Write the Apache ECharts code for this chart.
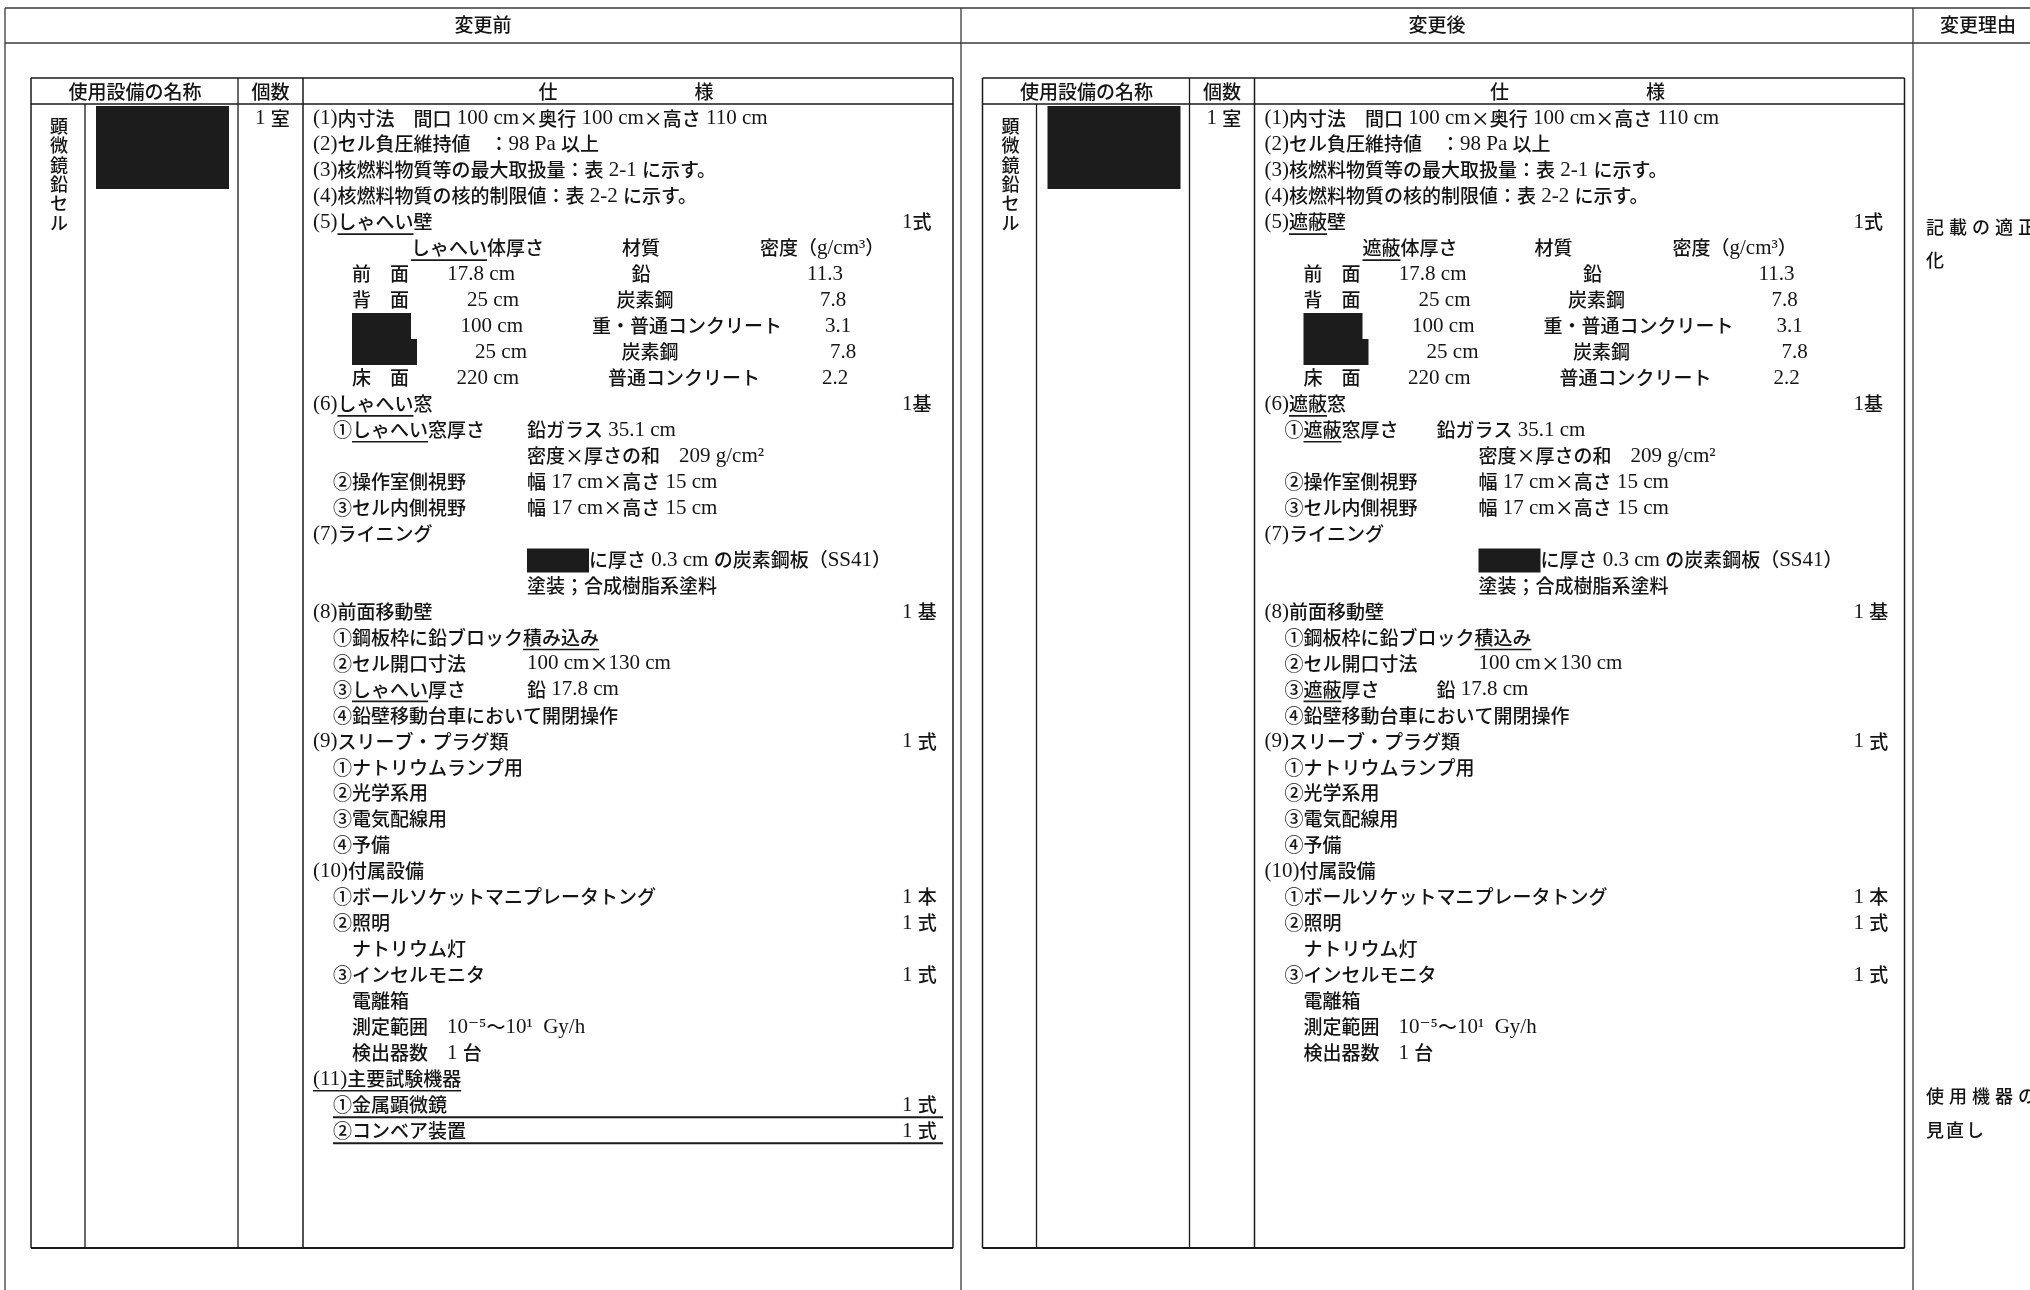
<!DOCTYPE html>
<html><head><meta charset="utf-8">
<script src="https://cdn.jsdelivr.net/npm/echarts@6/dist/echarts.min.js"></script>
<style>html,body{margin:0;padding:0;background:#fff}#c{width:2030px;height:1290px}</style>
</head><body><div id="c"></div>
<script>
// ---------------- DATA ----------------
const pageHeaders = ["変更前", "変更後", "変更理由"];
const tableHeaders = ["使用設備の名称", "個数", "仕", "様"];
const equipmentName = "顕微鏡鉛セル";
const equipmentCount = "1 室";

// [outline level, label, value, quantity]; "[..]" = underlined (changed) wording; "■" = redacted
const beforeSpec = [
  [0, "(1)内寸法　間口 100 cm×奥行 100 cm×高さ 110 cm"],
  [0, "(2)セル負圧維持値　：98 Pa 以上"],
  [0, "(3)核燃料物質等の最大取扱量：表 2-1 に示す。"],
  [0, "(4)核燃料物質の核的制限値：表 2-2 に示す。"],
  [0, "(5)[しゃへい]壁", "", "1式"],
  ["H"], ["S", 0], ["S", 1], ["S", 2], ["S", 3], ["S", 4],
  [0, "(6)[しゃへい]窓", "", "1基"],
  [1, "①[しゃへい]窓厚さ", "鉛ガラス 35.1 cm"],
  [1, "", "密度×厚さの和　209 g/cm²"],
  [1, "②操作室側視野", "幅 17 cm×高さ 15 cm"],
  [1, "③セル内側視野", "幅 17 cm×高さ 15 cm"],
  [0, "(7)ライニング"],
  [1, "", "■に厚さ 0.3 cm の炭素鋼板（SS41）"],
  [1, "", "塗装；合成樹脂系塗料"],
  [0, "(8)前面移動壁", "", "1 基"],
  [1, "①鋼板枠に鉛ブロック[積み込み]"],
  [1, "②セル開口寸法", "100 cm×130 cm"],
  [1, "③[しゃへい]厚さ", "鉛 17.8 cm"],
  [1, "④鉛壁移動台車において開閉操作"],
  [0, "(9)スリーブ・プラグ類", "", "1 式"],
  [1, "①ナトリウムランプ用"],
  [1, "②光学系用"],
  [1, "③電気配線用"],
  [1, "④予備"],
  [0, "(10)付属設備"],
  [1, "①ボールソケットマニプレータトング", "", "1 本"],
  [1, "②照明", "", "1 式"],
  [2, "ナトリウム灯"],
  [1, "③インセルモニタ", "", "1 式"],
  [2, "電離箱"],
  [2, "測定範囲　10⁻⁵～10¹  Gy/h"],
  [2, "検出器数　1 台"],
  [0, "[(11)主要試験機器]"],
  [1, "①金属顕微鏡", "", "1 式"],
  [1, "②コンベア装置", "", "1 式"]
];
const beforeDeletedRows = [38, 39];

const afterSpec = [
  [0, "(1)内寸法　間口 100 cm×奥行 100 cm×高さ 110 cm"],
  [0, "(2)セル負圧維持値　：98 Pa 以上"],
  [0, "(3)核燃料物質等の最大取扱量：表 2-1 に示す。"],
  [0, "(4)核燃料物質の核的制限値：表 2-2 に示す。"],
  [0, "(5)[遮蔽]壁", "", "1式"],
  ["H"], ["S", 0], ["S", 1], ["S", 2], ["S", 3], ["S", 4],
  [0, "(6)[遮蔽]窓", "", "1基"],
  [1, "①[遮蔽]窓厚さ　　鉛ガラス 35.1 cm"],
  [1, "", "密度×厚さの和　209 g/cm²"],
  [1, "②操作室側視野", "幅 17 cm×高さ 15 cm"],
  [1, "③セル内側視野", "幅 17 cm×高さ 15 cm"],
  [0, "(7)ライニング"],
  [1, "", "■に厚さ 0.3 cm の炭素鋼板（SS41）"],
  [1, "", "塗装；合成樹脂系塗料"],
  [0, "(8)前面移動壁", "", "1 基"],
  [1, "①鋼板枠に鉛ブロック[積込み]"],
  [1, "②セル開口寸法", "100 cm×130 cm"],
  [1, "③[遮蔽]厚さ　　　鉛 17.8 cm"],
  [1, "④鉛壁移動台車において開閉操作"],
  [0, "(9)スリーブ・プラグ類", "", "1 式"],
  [1, "①ナトリウムランプ用"],
  [1, "②光学系用"],
  [1, "③電気配線用"],
  [1, "④予備"],
  [0, "(10)付属設備"],
  [1, "①ボールソケットマニプレータトング", "", "1 本"],
  [1, "②照明", "", "1 式"],
  [2, "ナトリウム灯"],
  [1, "③インセルモニタ", "", "1 式"],
  [2, "電離箱"],
  [2, "測定範囲　10⁻⁵～10¹  Gy/h"],
  [2, "検出器数　1 台"]
];
const afterDeletedRows = [];

const shieldHeadBefore = ["[しゃへい]体厚さ", "材質", "密度（g/cm³）"];
const shieldHeadAfter = ["[遮蔽]体厚さ", "材質", "密度（g/cm³）"];
const shieldFaces = ["前　面", "背　面", "■", "■", "床　面"];
const shieldThickness = ["17.8 cm", "25 cm", "100 cm", "25 cm", "220 cm"];
const shieldMaterial = ["鉛", "炭素鋼", "重・普通コンクリート", "炭素鋼", "普通コンクリート"];
const shieldDensity = ["11.3", "7.8", "3.1", "7.8", "2.2"];

const reasonTexts = [["記載の適正", "化"], ["使用機器の", "見直し"]];

// ---------------- LAYOUT ----------------
const W = 2030, H = 1290;
const SHIFT = 951.5;
const CJK_FONT = '500 19px "Noto Sans CJK JP", sans-serif';
const LAT_FONT = '21px "Liberation Serif", "DejaVu Serif", serif';
const INK = '#141414';
const LAY = {
  lv: [313, 333, 352], val: 527, qty: 902, qtyEnd: 943, count: 255,
  head: [[411, 641, 760], [411, 602, 721]],
  face: 352, faceBoxW: [0, 0, 59, 65, 0],
  thickEnd: [515, 519, 523, 527, 519],
  matC: [641, 645, 687, 650, 684],
  denC: [825, 833, 838, 843, 835],
  boxW: 62
};
const ROW0 = 118.3, PITCH = 25.96, GRID_TOP = 104, GRID_BOTTOM = 1248;
const ROW_MIN = (GRID_TOP - ROW0) / PITCH, ROW_MAX = (GRID_BOTTOM - ROW0) / PITCH;

const mctx = document.createElement('canvas').getContext('2d');
function measure(s, font) { mctx.font = font; return mctx.measureText(s).width; }
function isCJK(ch) { const c = ch.codePointAt(0); return c >= 0x2460 || c === 0xD7; }

function parseMarked(str) {
  let plain = '', ranges = [], start = -1;
  for (const ch of str) {
    if (ch === '[') start = plain.length;
    else if (ch === ']') { ranges.push([start, plain.length]); start = -1; }
    else plain += ch;
  }
  return { plain, ranges };
}
function makeRuns(plain) {
  const runs = [];
  Array.from(plain).forEach(ch => {
    const c = isCJK(ch);
    if (runs.length && runs[runs.length - 1].cjk === c) runs[runs.length - 1].s += ch;
    else runs.push({ s: ch, cjk: c });
  });
  runs.forEach(r => { r.font = r.cjk ? CJK_FONT : LAT_FONT; r.w = measure(r.s, r.font); });
  return runs;
}
function baseText(x, y, s, font, align) {
  return { type: 'text', x: 0, y: 0, silent: true, style: { text: s, x: x, y: y, font: font, fill: INK,
    textAlign: align || 'left', textVerticalAlign: 'middle', align: align || 'left', verticalAlign: 'middle' } };
}
function lineEl(x1, y1, x2, y2, w, c) {
  return { type: 'line', silent: true, shape: { x1, y1, x2, y2 }, style: { stroke: c || '#1a1a1a', lineWidth: w || 1.5 } };
}
function rectEl(x, y, w, h) {
  return { type: 'rect', silent: true, shape: { x, y, width: w, height: h }, style: { fill: '#1c1c1c' } };
}
// mixed-script text with underline markers
function richText(children, x, y, str, align) {
  const p = parseMarked(str);
  const runs = makeRuns(p.plain);
  const total = runs.reduce((a, r) => a + r.w, 0);
  let x0 = x;
  if (align === 'center') x0 = x - total / 2;
  if (align === 'right') x0 = x - total;
  const charX = [];
  let cx = x0;
  runs.forEach(r => {
    const cs = Array.from(r.s);
    for (let i = 0; i < cs.length; i++) charX.push(cx + measure(cs.slice(0, i).join(''), r.font));
    children.push(baseText(cx, y + (r.cjk ? 0 : 0.5), r.s, r.font, 'left'));
    cx += r.w;
  });
  charX.push(cx);
  p.ranges.forEach(rg => {
    children.push(lineEl(charX[rg[0]], y + 12, charX[rg[1]], y + 12, 1.6));
  });
}
function valueText(children, x, y, str) {
  if (str.startsWith('■')) {
    children.push(rectEl(x, y - 11, LAY.boxW, 24));
    richText(children, x + LAY.boxW, y, str.slice(1));
  } else richText(children, x, y, str);
}

function renderItem(params, api) {
  const row = api.value(0), t = api.value(1);
  const rows = t === 0 ? beforeSpec : afterSpec;
  const deleted = t === 0 ? beforeDeletedRows : afterDeletedRows;
  const s = t * SHIFT;
  const X = px => api.coord([px + s, row])[0];
  const y = api.coord([0, row])[1];
  const ch = [];
  if (row === 0) richText(ch, X(LAY.count), y, equipmentCount, 'left');
  const it = rows[row];
  if (it[0] === 'H') {
    const h = t === 0 ? shieldHeadBefore : shieldHeadAfter, hc = LAY.head[t];
    richText(ch, X(hc[0]), y, h[0], 'left');
    richText(ch, X(hc[1]), y, h[1], 'center');
    richText(ch, X(hc[2]), y, h[2], 'left');
  } else if (it[0] === 'S') {
    const i = it[1];
    if (shieldFaces[i] === '■') ch.push(rectEl(X(LAY.face), y - 13, LAY.faceBoxW[i], 26));
    else richText(ch, X(LAY.face), y, shieldFaces[i], 'left');
    richText(ch, X(LAY.thickEnd[i]), y, shieldThickness[i], 'right');
    richText(ch, X(LAY.matC[i]), y, shieldMaterial[i], 'center');
    richText(ch, X(LAY.denC[i]), y, shieldDensity[i], 'center');
  } else {
    const lv = it[0], label = it[1], value = it[2], qty = it[3];
    if (label) richText(ch, X(LAY.lv[lv]), y, label, 'left');
    if (value) valueText(ch, X(LAY.val), y, value);
    if (qty) richText(ch, X(LAY.qty), y, qty, 'left');
  }
  if (deleted.indexOf(row) >= 0) ch.push(lineEl(X(LAY.lv[1]), y + 12.5, X(LAY.qtyEnd), y + 12.5, 2));
  return { type: 'group', children: ch };
}

// frame graphics
const g = [];
const frameC = '#3a3a3a';
g.push(lineEl(5, 8, W, 8, 1.3, frameC));
g.push(lineEl(5, 43, W, 43, 1.3, frameC));
g.push(lineEl(5, 8, 5, H, 1.3, frameC));
g.push(lineEl(961, 8, 961, H, 1.3, frameC));
g.push(lineEl(1913, 8, 1913, H, 1.3, frameC));
g.push(baseText(483, 25, pageHeaders[0], CJK_FONT, 'center'));
g.push(baseText(1437, 25, pageHeaders[1], CJK_FONT, 'center'));
g.push(baseText(1940, 25, pageHeaders[2], CJK_FONT, 'left'));
[0, 1].forEach(t => {
  const s = t * SHIFT;
  g.push(lineEl(31 + s, 78, 953 + s, 78));
  g.push(lineEl(31 + s, 104, 953 + s, 104));
  g.push(lineEl(31 + s, 1248, 953 + s, 1248, 1.8));
  g.push(lineEl(31 + s, 78, 31 + s, 1248));
  g.push(lineEl(953 + s, 78, 953 + s, 1248));
  g.push(lineEl(85 + s, 104, 85 + s, 1248, 1.3));
  g.push(lineEl(238 + s, 78, 238 + s, 1248, 1.3));
  g.push(lineEl(303 + s, 78, 303 + s, 1248, 1.5));
  g.push(baseText(135 + s, 91.5, tableHeaders[0], CJK_FONT, 'center'));
  g.push(baseText(270.5 + s, 91.5, tableHeaders[1], CJK_FONT, 'center'));
  g.push(baseText(548 + s, 91.5, tableHeaders[2], CJK_FONT, 'center'));
  g.push(baseText(704 + s, 91.5, tableHeaders[3], CJK_FONT, 'center'));
  g.push(rectEl(96 + s, 106, 133, 83));
  Array.from(equipmentName).forEach((c, i) => {
    g.push(baseText(59 + s, 126 + i * 19.4, c, '500 18px "Noto Sans CJK JP", sans-serif', 'center'));
  });
});
const reasonY = [[227, 260], [1096, 1130]];
const reasonPitch = [23, 20];
reasonTexts.forEach((lines, k) => {
  lines.forEach((ln, j) => {
    Array.from(ln).forEach((c, i) => {
      g.push(baseText(1926 + i * reasonPitch[j], reasonY[k][j], c, '500 18px "Noto Sans CJK JP", sans-serif', 'left'));
    });
  });
});

const data = [];
beforeSpec.forEach((r, i) => data.push([i, 0]));
afterSpec.forEach((r, i) => data.push([i, 1]));

const chart = echarts.init(document.getElementById('c'), null, { renderer: 'canvas', width: W, height: H });
chart.setOption({
  backgroundColor: '#ffffff',
  animation: false,
  grid: { left: 0, right: 0, top: GRID_TOP, bottom: H - GRID_BOTTOM },
  xAxis: { type: 'value', min: 0, max: W, show: false },
  yAxis: { type: 'value', min: ROW_MIN, max: ROW_MAX, inverse: true, show: false },
  graphic: { elements: g },
  series: [{
    type: 'custom', coordinateSystem: 'cartesian2d', clip: false, silent: true,
    encode: { y: 0, x: 1 }, data: data, renderItem: renderItem
  }]
});
</script></body></html>
